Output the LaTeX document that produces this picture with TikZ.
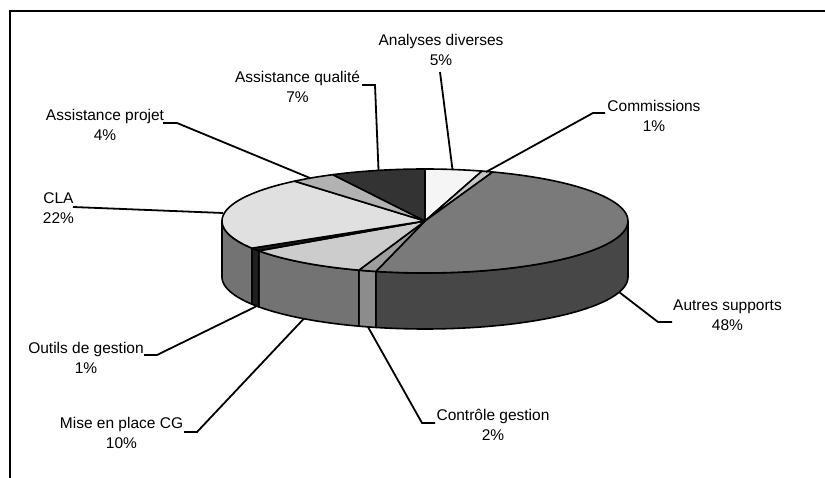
\documentclass[tikz,border=0pt]{standalone}
\usepackage{fontspec}
\setmainfont{Liberation Sans}
\newcommand{\pcx}{425}
\newcommand{\pcy}{221}
\newcommand{\prx}{203}
\newcommand{\pry}{52}
\newcommand{\pdep}{56}
\newcommand{\topslice}[3]{\filldraw[face, fill=#3] (\pcx,\pcy) -- plot[domain=#1:#2, samples=60] ({\pcx+\prx*sin(\x)},{\pcy-\pry*cos(\x)}) -- cycle;}
\newcommand{\sideslice}[3]{\filldraw[face, fill=#3] plot[domain=#1:#2, samples=60] ({\pcx+\prx*sin(\x)},{\pcy-\pry*cos(\x)}) -- plot[domain=#2:#1, samples=60] ({\pcx+\prx*sin(\x)},{\pcy+\pdep-\pry*cos(\x)}) -- cycle;}
\begin{document}
\begin{tikzpicture}[x=1pt,y=-1pt,
  lbl/.style={align=center, font=\fontsize{15.5}{20}\selectfont, inner sep=0pt},
  leader/.style={line width=1.8pt, line join=miter},
  face/.style={draw=black, line width=1.6pt, line join=round}]
\useasboundingbox (0,0) rectangle (825,478);
\clip (0,0) rectangle (825,478);
\fill[white] (0,0) rectangle (825,478);
% frame
\draw[line width=2pt] (9.5,520) -- (9.5,11.5) -- (860,11.5);
% side faces
\sideslice{90}{194}{black!72}
\sideslice{194}{199}{black!45}
\sideslice{199}{235}{black!55}
\sideslice{235}{238.5}{black!88}
\sideslice{238.5}{270}{black!55}
% top faces
\topslice{0}{16.3}{black!4}
\topslice{16.3}{19.5}{black!22}
\topslice{19.5}{194}{black!52}
\topslice{194}{199}{black!38}
\topslice{199}{235}{black!20}
\topslice{235}{238.5}{black!90}
\topslice{238.5}{320}{black!12}
\topslice{320}{333}{black!30}
\topslice{333}{360}{black!80}
% labels
\node[lbl] (lA) at (441,50) {Analyses diverses\\5\%};
\node[lbl] (lQ) at (297.5,87) {Assistance qualité\\7\%};
\node[lbl] (lC) at (654,116) {Commissions\\1\%};
\node[lbl] (lP) at (105,124.5) {Assistance projet\\4\%};
\node[lbl] (lL) at (58.5,208) {CLA\\22\%};
\node[lbl] (lO) at (86,357.5) {Outils de gestion\\1\%};
\node[lbl] (lM) at (121.5,433) {Mise en place CG\\10\%};
\node[lbl] (lG) at (493,425) {Contrôle gestion\\2\%};
\node[lbl] (lS) at (727.5,315) {Autres supports\\48\%};
% leader coordinates
\coordinate (aA1) at (440,72);   \coordinate (pA) at (452.5,169.5);
\coordinate (aQ1) at (362,85);   \coordinate (aQ2) at (375,85);   \coordinate (pQ) at (378.5,170);
\coordinate (aC1) at (605,113);  \coordinate (aC2) at (593,113);  \coordinate (pC) at (486,172);
\coordinate (aP1) at (163,123);  \coordinate (aP2) at (177,123);  \coordinate (pP) at (310,178);
\coordinate (aL1) at (73,207);   \coordinate (pL) at (223,213);
\coordinate (aO1) at (144,355);  \coordinate (aO2) at (157,355);  \coordinate (pO) at (256,306.5);
\coordinate (aM1) at (184,432);  \coordinate (aM2) at (197,432);  \coordinate (pM) at (304,318.5);
\coordinate (aG1) at (435,423);  \coordinate (aG2) at (422,423);  \coordinate (pG) at (368,327);
\coordinate (aS1) at (672,322);  \coordinate (aS2) at (658,322);  \coordinate (pS) at (619,292);
% leaders
\draw[leader] (aA1) -- (pA);
\draw[leader] (aQ1) -- (aQ2) -- (pQ);
\draw[leader] (aC1) -- (aC2) -- (pC);
\draw[leader] (aP1) -- (aP2) -- (pP);
\draw[leader] (aL1) -- (pL);
\draw[leader] (aO1) -- (aO2) -- (pO);
\draw[leader] (aM1) -- (aM2) -- (pM);
\draw[leader] (aG1) -- (aG2) -- (pG);
\draw[leader] (aS1) -- (aS2) -- (pS);
\end{tikzpicture}
\end{document}
